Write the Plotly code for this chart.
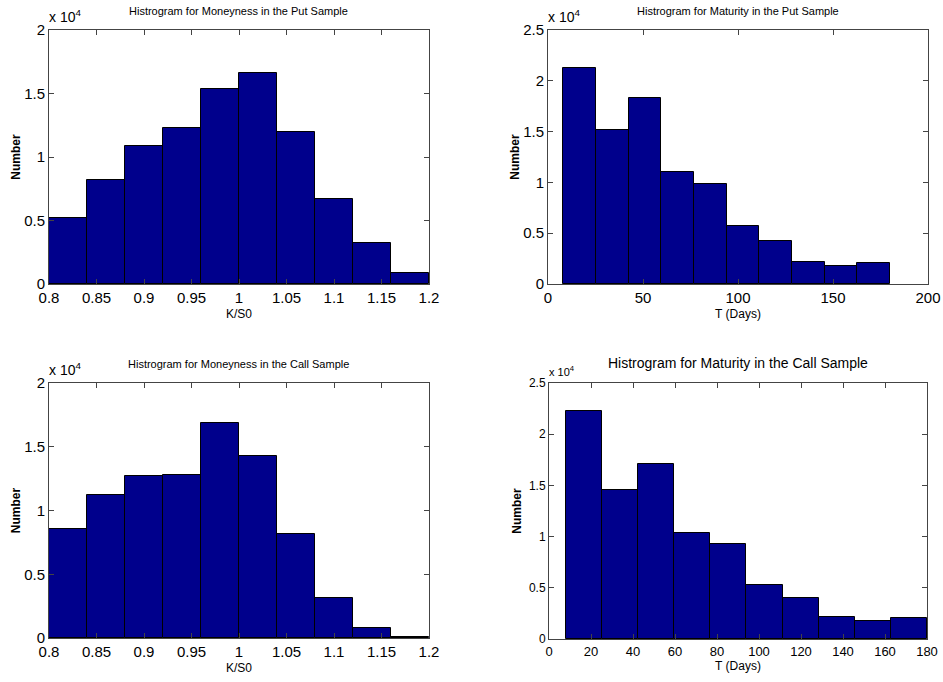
import plotly.graph_objects as go

# ---------------- data ----------------
money_edges = [0.80, 0.84, 0.88, 0.92, 0.96, 1.00, 1.04, 1.08, 1.12, 1.16, 1.20]
put_money_counts = [5160, 8190, 10890, 12280, 15390, 16600, 11940, 6730, 3220, 890]
call_money_counts = [8520, 11240, 12680, 12780, 16860, 14270, 8160, 3110, 780, 100]

mat_edges = [8.0, 25.2, 42.4, 59.6, 76.8, 94.0, 111.2, 128.4, 145.6, 162.8, 180.0]
put_mat_counts = [21270, 15120, 18290, 10990, 9850, 5690, 4190, 2130, 1730, 2060]
call_mat_counts = [22260, 14540, 17110, 10330, 9290, 5310, 4010, 2150, 1730, 2050]

money_ticks = [0.8, 0.85, 0.9, 0.95, 1.0, 1.05, 1.1, 1.15, 1.2]
money_ticktext = ["0.8", "0.85", "0.9", "0.95", "1", "1.05", "1.1", "1.15", "1.2"]
put_mat_ticks = [0, 50, 100, 150, 200]
call_mat_ticks = [0, 20, 40, 60, 80, 100, 120, 140, 160, 180]
y_ticks_2 = [0, 5000, 10000, 15000, 20000]
y_ticktext_2 = ["0", "0.5", "1", "1.5", "2"]
y_ticks_25 = [0, 5000, 10000, 15000, 20000, 25000]
y_ticktext_25 = ["0", "0.5", "1", "1.5", "2", "2.5"]

titles = ["Histrogram for Moneyness in the Put Sample",
          "Histrogram for Maturity in the Put Sample",
          "Histrogram for Moneyness in the Call Sample",
          "Histrogram for Maturity in the Call Sample"]

# ---------------- layout helpers ----------------
W, H = 943, 682
FONT = "Liberation Sans, Arial, sans-serif"
BAR_COLOR = "#00008C"

def dom_x(a, b):
    return [a / W, b / W]

def dom_y(top, bottom):
    return [1 - bottom / H, 1 - top / H]

panels = [
    dict(edges=money_edges, counts=put_money_counts, xd=dom_x(49, 429), yd=dom_y(30, 284),
         xr=[0.8, 1.2], xt=money_ticks, xtt=money_ticktext, yr=[0, 20000], yt=y_ticks_2, ytt=y_ticktext_2,
         xlabel="K/S0", tfs=11, tickfs=15, ytickfs=15, labfs=12, expfs=14, tshift=11, ystand=0),
    dict(edges=mat_edges, counts=put_mat_counts, xd=dom_x(548, 928), yd=dom_y(30, 284),
         xr=[0, 200], xt=put_mat_ticks, xtt=[str(v) for v in put_mat_ticks], yr=[0, 25000], yt=y_ticks_25, ytt=y_ticktext_25,
         xlabel="T (Days)", tfs=11, tickfs=15, ytickfs=15, labfs=12, expfs=14, tshift=11, ystand=0),
    dict(edges=money_edges, counts=call_money_counts, xd=dom_x(49, 429), yd=dom_y(383, 638),
         xr=[0.8, 1.2], xt=money_ticks, xtt=money_ticktext, yr=[0, 20000], yt=y_ticks_2, ytt=y_ticktext_2,
         xlabel="K/S0", tfs=11, tickfs=15, ytickfs=15, labfs=12, expfs=14, tshift=11, ystand=0),
    dict(edges=mat_edges, counts=call_mat_counts, xd=dom_x(549, 927), yd=dom_y(383, 639),
         xr=[0, 180], xt=call_mat_ticks, xtt=[str(v) for v in call_mat_ticks], yr=[0, 25000], yt=y_ticks_25, ytt=y_ticktext_25,
         xlabel="T (Days)", tfs=14, tickfs=13, ytickfs=12, labfs=12, expfs=11, tshift=10, ystand=4),
]

fig = go.Figure()
layout = dict(width=W, height=H, margin=dict(l=0, r=0, t=0, b=0, autoexpand=False),
              paper_bgcolor="white", plot_bgcolor="white", showlegend=False,
              font=dict(family=FONT, color="black"), bargap=0)
annotations = []

for i, p in enumerate(panels):
    n = "" if i == 0 else str(i + 1)
    edges = p["edges"]
    centers = [(edges[k] + edges[k + 1]) / 2 for k in range(len(edges) - 1)]
    widths = [edges[k + 1] - edges[k] for k in range(len(edges) - 1)]
    fig.add_trace(go.Bar(x=centers, y=p["counts"], width=widths,
                         marker=dict(color=BAR_COLOR, line=dict(color="black", width=1)),
                         xaxis="x" + n, yaxis="y" + n, hoverinfo="x+y"))
    axcommon = dict(showgrid=False, zeroline=False, showline=True, linecolor="#444444", linewidth=1,
                    mirror="ticks", ticks="inside", ticklen=5, tickcolor="#444444", automargin=False)
    layout["xaxis" + n] = dict(axcommon, domain=p["xd"], range=p["xr"], tickvals=p["xt"], ticktext=p["xtt"],
                               tickfont=dict(size=p["tickfs"], family=FONT), anchor="y" + n,
                               title=dict(text=p["xlabel"], font=dict(size=p["labfs"], family=FONT), standoff=4))
    layout["yaxis" + n] = dict(axcommon, domain=p["yd"], range=p["yr"], tickvals=p["yt"], ticktext=p["ytt"],
                               tickfont=dict(size=p["ytickfs"], family=FONT), anchor="x" + n,
                               title=dict(text="<b>Number</b>", font=dict(size=p["labfs"], family=FONT),
                                          standoff=p["ystand"]))
    # title
    xm = (p["xd"][0] + p["xd"][1]) / 2
    annotations.append(dict(text=titles[i], xref="paper", yref="paper", x=xm, y=p["yd"][1],
                            yshift=p["tshift"], xanchor="center", yanchor="bottom", showarrow=False,
                            font=dict(size=p["tfs"], family=FONT)))
    # exponent label
    annotations.append(dict(text="x 10<sup>4</sup>", xref="paper", yref="paper", x=p["xd"][0], y=p["yd"][1],
                            xanchor="left", yanchor="bottom", showarrow=False, xshift=-2, yshift=3,
                            font=dict(size=p["expfs"], family=FONT)))

layout["annotations"] = annotations
fig.update_layout(**layout)
fig.write_html("out.html")
